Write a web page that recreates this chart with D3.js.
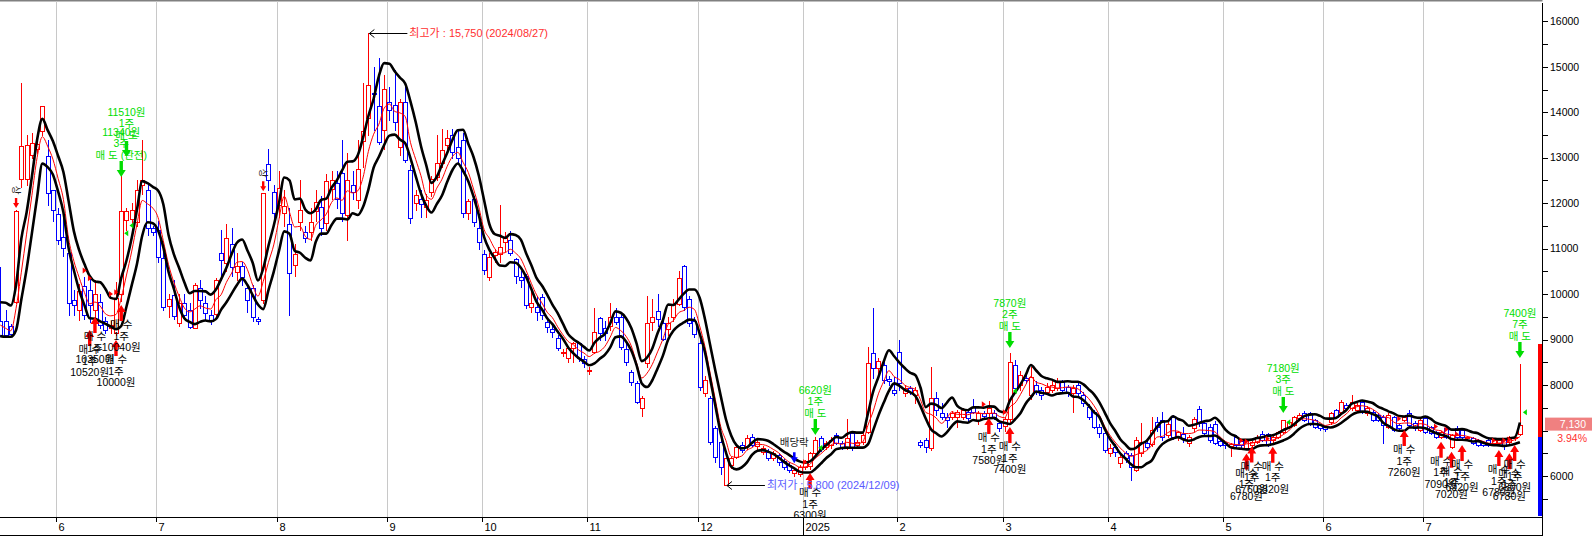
<!DOCTYPE html>
<html><head><meta charset="utf-8">
<script src="https://cdn.jsdelivr.net/npm/d3@7"></script>
<style>
html,body{margin:0;padding:0;background:#fff;}
svg{display:block;}
text{font-family:"Liberation Sans","Noto Sans CJK KR",sans-serif;}
</style></head><body>
<svg id="c" width="1592" height="537"></svg>
<script>
// ---- data (daily candles, 2024/05/17 .. 2025/07/25) ----
const opens = [
9400,9400,9300,9835,12530,12540,13060,13200,13590,13040,
12280,11755,11264,10897,9871,9651,10179,10091,9651,9835,
9417,9248,9139,9996,11630,11660,11594,12400,12290,11448,
11411,10787,9739,9982,9373,9798,9651,9263,10128,9798,
9541,9556,10897,10677,11095,10494,10619,10128,10128,9450,
9871,12855,12253,11950,11777,11535,10641,11594,11360,11374,
11830,11909,11572,12320,12437,12672,11741,12400,12070,13360,
13880,14420,14135,13610,14233,14160,13243,14233,12730,12000,
12100,11923,12240,12583,12877,13280,13500,13243,13390,11777,
12085,11447,10883,10384,10850,10883,11140,11180,10766,10384,
10406,9710,9724,9944,9394,9240,9028,8700,8588,8808,
8930,8566,8300,8735,9467,9260,9300,9490,9490,8786,
8294,8053,7488,8493,9394,9628,9358,9233,9490,9783,
10618,9885,9416,8918,7818,7708,7048,6755,5810,6240,
6425,6680,6667,6865,6667,6535,6535,6388,6460,6340,
6250,6060,6050,6190,6220,6500,6828,6645,6680,6900,
6718,6645,6938,6680,6755,6975,8697,8367,8440,8135,
7891,8733,7818,7927,7780,6755,6800,6608,7708,7378,
7304,7304,7304,7304,7415,7524,7231,7378,7378,7378,
7158,7100,7250,8440,8000,8150,7780,8000,7891,7855,
7890,7927,8074,7964,7818,8000,7780,7524,7415,7084,
6938,6498,6645,6278,6498,6460,6132,6498,6718,6700,
7194,7231,6900,7290,6870,6920,6718,7048,7480,7158,
7084,7140,6770,6718,6660,6864,6770,6608,6680,6755,
6920,6920,6790,6864,6975,7084,7120,7268,7378,7378,
7231,7120,7084,7194,7451,7400,7560,7490,7451,7630,
7378,7415,7340,7304,7084,7304,7120,7231,7390,7158,
7011,7268,7084,6975,6864,7048,6645,7048,7011,6830,
6830,6791,6755,6791,6718,6718,6791,6755,6830,6920];
const highs = [
10600,9650,9350,11850,14633,13500,13550,13450,14135,13400,
12300,11900,11700,10900,10100,10230,10384,10384,10300,10000,
9500,9400,10274,12620,11900,12000,12510,13390,12400,11500,
11600,11000,10000,10300,10000,10000,9800,10250,10300,9950,
9650,10350,11400,11550,11450,10900,10700,10200,10200,9500,
12220,13200,12400,12700,12300,11900,11100,12500,11500,11900,
12300,12150,12650,12700,12700,13400,13100,12700,13400,14633,
15750,15000,15200,14820,14560,14930,14300,14560,12840,12290,
12300,12200,12600,13500,13640,13600,13640,13640,13550,12100,
12150,11600,10960,10900,11000,11950,11370,11380,10800,10500,
10450,10050,9950,10000,9500,9350,9100,8800,8850,8950,
8950,8650,8400,9700,9500,9400,9800,9700,9550,8900,
8330,8100,7750,9950,9900,10000,9500,9500,9900,10500,
10650,9950,9500,9000,8200,7750,7100,6790,6400,6420,
6680,6750,6900,6920,6800,6650,6600,6550,6500,6380,
6300,6180,6250,6350,6520,6850,6870,6760,6860,6950,
6760,7260,7000,6800,6950,8840,9687,8600,8500,8200,
8180,8990,8000,7990,7950,6800,6830,8390,7850,7600,
7380,7420,7450,7500,7480,7700,7420,7420,7640,7450,
7200,7300,8700,8550,8300,8250,8400,8100,7950,8050,
8100,8150,8120,8000,8000,8100,7850,7580,7450,7150,
7000,6700,6700,6500,6550,6500,6850,7158,6800,7304,
7300,7415,7200,7350,7000,7080,6900,7300,7550,7200,
7150,7200,6800,6750,6720,6900,6800,6800,6780,6900,
6980,6950,6880,7000,7240,7220,7330,7380,7420,7400,
7260,7150,7100,7400,7480,7680,7600,7780,7600,7650,
7550,7450,7380,7350,7380,7330,7150,7330,7450,7200,
7260,7300,7100,7000,7000,7080,6920,7100,7050,6880,
6860,6820,6780,6820,6820,6810,6820,6880,6900,8470];
const lows = [
9080,9080,9100,9800,12350,12400,13000,13100,13500,11960,
11600,11100,10830,9540,9540,9430,9450,9380,9500,9250,
9150,9140,9100,9850,11400,11500,11500,12200,11300,11300,
10700,9650,9500,9450,9300,9450,9250,9250,9700,9450,
9350,9500,10300,10500,10400,10300,10200,9600,9400,9350,
9800,12300,11600,11700,11500,9550,10400,11400,11150,11200,
11600,11300,11400,12100,11900,11600,11200,12100,11900,12800,
13500,13600,13300,13200,13830,13610,13050,12900,11570,11850,
11700,11700,12150,12500,12800,13200,13000,12870,11700,11650,
11500,11000,10450,10300,10700,10700,10950,10850,10250,10150,
9700,9600,9440,9450,9160,9050,8780,8650,8500,8500,
8530,8400,8250,8700,9000,9000,9200,9350,8800,8450,
8000,7600,7330,8400,9200,9300,8980,9100,9400,9750,
9650,9300,9050,7900,7750,6700,6300,6050,5800,6180,
6400,6520,6600,6650,6600,6480,6350,6350,6250,6150,
6080,6000,6000,6150,6150,6480,6550,6600,6620,6700,
6600,6600,6580,6640,6700,6950,8150,8200,8050,8000,
7780,7890,7750,7800,7600,6640,6530,6580,7350,7250,
7080,7250,7080,7250,7200,7380,7150,7280,7330,7250,
6990,7000,7150,7850,7900,8050,7700,7800,7700,7800,
7850,7900,7850,7750,7400,7780,7550,7250,7050,6850,
6520,6450,6450,6200,6300,5912,6100,6450,6600,6650,
7000,6800,6850,6820,6800,6750,6650,7000,7100,6900,
6750,6700,6650,6620,6430,6650,6640,6590,6640,6720,
6780,6650,6700,6830,6950,7050,7100,7240,7200,7120,
7050,7020,7000,7150,7280,7380,7450,7450,7420,7380,
7350,7200,7200,6720,7050,6980,7020,7200,7100,7020,
6990,6950,6920,6840,6840,6840,6620,6840,6840,6800,
6700,6660,6660,6660,6700,6690,6600,6730,6800,6900];
const closes = [
9100,9100,9120,11830,13265,13280,13330,13300,14135,12220,
11860,11190,11007,9800,9761,10069,9541,9761,9996,9321,
9212,9321,9908,11828,11828,11850,12290,12510,11448,11360,
10824,9725,9886,9519,9813,9541,9285,10201,9871,9578,
9431,10311,10750,11227,10600,10619,10384,9871,9505,9400,
12217,12510,11777,12327,11930,10472,10875,11850,11230,11594,
12033,11462,12488,12500,12085,11777,12510,12253,12745,13585,
14600,14400,13350,14504,14050,13790,14233,12950,11667,12180,
11990,12070,12525,12877,13170,13426,13130,12987,11792,12050,
11594,11154,10531,10824,10934,11044,11227,10900,10406,10311,
9761,9812,9614,9541,9284,9160,8808,8735,8808,8918,
8588,8478,8340,9174,9138,9138,9490,9394,8830,8515,
8075,7635,7723,9358,9490,9445,9006,9358,9783,10348,
9710,9358,9123,7965,8112,6755,6425,6205,6390,6388,
6645,6570,6840,6680,6755,6608,6388,6498,6315,6200,
6130,6140,6200,6320,6500,6790,6600,6718,6800,6718,
6645,6828,6608,6755,6900,8477,8367,8530,8111,8100,
7818,8037,7927,7855,7890,6680,6645,7708,7451,7304,
7231,7378,7415,7451,7268,7415,7390,7320,7490,7300,
7050,7250,8500,7927,8220,8110,8184,7855,7780,7964,
8000,8074,7891,7855,7927,7818,7598,7304,7084,6938,
6571,6608,6535,6425,6390,6205,6791,6755,6645,7011,
7084,6864,7150,6864,6960,6830,6864,7245,7158,6938,
6791,6718,6680,6680,6700,6680,6680,6791,6755,6864,
6800,6680,6864,6975,7231,7194,7304,7340,7231,7158,
7084,7048,7030,7378,7304,7630,7490,7630,7560,7415,
7500,7231,7231,7120,7340,7011,7048,7304,7120,7048,
7231,6975,6938,6864,6975,6864,6900,6864,6864,6864,
6718,6680,6680,6680,6791,6791,6680,6864,6860,7130];
// four trading days before the first visible candle (off-screen, only seed the averages)
const priorHighs  = [9700,9650,9600,9550];
const priorLows   = [9150,9100,9050,9000];
const priorCloses = [9450,9400,9350,9300];

// month ticks (candle index of first trading day) and labels
const monthTickIdx    = [11,30,53,74,92,112,133,153,171,191,211,233,252,271];
const monthTickLabels = ["6","7","8","9","10","11","12","2025","2","3","4","5","6","7"];
const yearTickIdx     = [153];
const priceTicks = [6000,7000,8000,9000,10000,11000,12000,13000,14000,15000,16000];
const minorTicks = [5500,6500,7500,8500,9500,10500,11500,12500,13500,14500,15500];

// buy signals: candle index, price, quantity, arrow-tip price level
const buyIdx   = [17,18,22,23,154,188,192,237,238,242,267,274,276,278,285,287,288];
const buyPrice = [10520,10350,10000,10040,6300,7580,7400,6780,6760,6820,7260,7090,7020,6920,6780,6780,6800];
const buyQty   = [1,1,1,1,1,1,1,1,1,1,1,1,1,1,1,1,1];
const buyTip   = [9212,9498,8992,9762,6066,7275,7077,6495,6649,6644,7012,6754,6534,6682,6572,6499,6682];
// sell signals
const sellIdx   = [24,23,155,192,244,289];
const sellPrice = [11510,11340,6620,7870,7180,7400];
const sellQty   = [1,3,1,2,3,7];
const sellTip   = [13016,12576,6903,8817,7386,8597];
const sellNote  = ["매 도","매 도 (완전)","매 도","매 도","매 도","매 도"];
// "상" marks, ex-dividend mark
const riseIdx = [3,50];
const dividendIdx = [151];
const dividendTip = [6283];
// extremes
const extremeIdx   = [70,138];
const extremeLabel = ["최고가","최저가"];
const extremePrice = [15750,5800];
const extremeDate  = ["2024/08/27","2024/12/09"];
const extremeColor = ["#ff3030","#5a5aff"];
// current price info
const lastClose = 7130, prevClose = 6860, limitUp = 8910, limitDown = 4810;

// ---- drawing ----
const svg = d3.select("#c");
const RED="#ff0000", BLUE="#0000ff", GREEN="#00dd00";
const N = closes.length;
const AX = 1542.5, PB = 517;
const x = d3.scaleLinear().domain([0, N-1]).range([0.3, 1519.9]);
const y = d3.scaleLinear().domain([6000,16000]).range([476, 21.3]);
const fmt = d3.format(",");

svg.append("rect").attr("width",1592).attr("height",537).attr("fill","#fff");
svg.append("defs").append("clipPath").attr("id","plot")
  .append("rect").attr("x",0).attr("y",0).attr("width",AX).attr("height",PB);

// top border
svg.append("line").attr("x1",0).attr("x2",AX).attr("y1",0.75).attr("y2",0.75)
  .attr("stroke","#808080").attr("stroke-width",1.5);

// month grid
const gx = i => Math.round(x(i)) - 2 + 0.5;
svg.append("g").attr("shape-rendering","crispEdges").selectAll("line").data(monthTickIdx).join("line")
  .attr("x1",gx).attr("x2",gx).attr("y1",1).attr("y2",PB).attr("stroke","#c8c8c8");

const plot = svg.append("g").attr("clip-path","url(#plot)");

// candles
const data = d3.range(N).map(i=>({i,o:opens[i],c:closes[i],
  h:Math.max(highs[i],opens[i],closes[i]), l:Math.min(lows[i],opens[i],closes[i])}));
const col = d => d.c >= d.o ? RED : BLUE;
const cxp = d => Math.round(x(d.i));
const cg = plot.append("g").attr("shape-rendering","crispEdges");
const cand = cg.selectAll("g").data(data).join("g");
cand.append("line")
  .attr("x1",d=>cxp(d)+0.5).attr("x2",d=>cxp(d)+0.5)
  .attr("y1",d=>Math.round(y(d.h))).attr("y2",d=>Math.round(y(d.l))+1)
  .attr("stroke",col);
cand.append("rect")
  .attr("x",d=>cxp(d)-1.5).attr("width",4)
  .attr("y",d=>Math.round(y(Math.max(d.o,d.c)))+0.5)
  .attr("height",d=>Math.max(0.01, Math.round(y(Math.min(d.o,d.c)))-Math.round(y(Math.max(d.o,d.c)))))
  .attr("fill","#fff").attr("stroke",col);

// indicator lines (5-period averages of high / low / close)
const sma = (prior,arr,n)=>{ const a = prior.concat(arr), p = prior.length;
  return arr.map((v,i)=>d3.mean(a.slice(Math.max(0,i+p-n+1), i+p+1))); };
const upper = sma(priorHighs,highs,5), lower = sma(priorLows,lows,5), ma = sma(priorCloses,closes,5);
const lg = d3.line().x((d,i)=>x(i)).y(d=>y(d)).curve(d3.curveMonotoneX);
plot.append("path").datum(ma).attr("d",lg).attr("fill","none").attr("stroke",RED).attr("stroke-width",1);
plot.append("path").datum(upper).attr("d",lg).attr("fill","none").attr("stroke","#000").attr("stroke-width",2.6);
plot.append("path").datum(lower).attr("d",lg).attr("fill","none").attr("stroke","#000").attr("stroke-width",2.6);

// arrow helper: dir=1 points up (tip on top), dir=-1 points down
function arrow(xc, tip, dir, len, hw, hl, sw){
  const b = tip + dir*len, h = tip + dir*hl;
  return `M${xc},${tip}L${xc-hw/2},${h}L${xc-sw/2},${h}L${xc-sw/2},${b}L${xc+sw/2},${b}L${xc+sw/2},${h}L${xc+hw/2},${h}Z`;
}
const ann = plot.append("g").attr("font-size","10.5px");

// buy markers and labels
buyIdx.forEach((bi,k)=>{
  const xc = x(bi), t = y(buyTip[k]), py = y(buyPrice[k]);
  ann.append("path").attr("d",`M${xc-7},${py-3}L${xc-3},${py}L${xc-7},${py+3}Z`).attr("fill",RED);
  ann.append("path").attr("d",arrow(xc,t,1,16,9,7,3.4)).attr("fill",RED);
  const lines = ["매 수", buyQty[k]+"주", buyPrice[k]+"원"];
  lines.forEach((s,j)=>ann.append("text").attr("x",xc).attr("y",t+19.5+j*11.5).attr("dy","0.36em")
    .attr("text-anchor","middle").attr("fill","#000").text(s));
});
// sell markers and labels
sellIdx.forEach((si,k)=>{
  const xc = x(si), t = y(sellTip[k]), py = y(sellPrice[k]);
  ann.append("path").attr("d",`M${xc+7},${py-3}L${xc+3},${py}L${xc+7},${py+3}Z`).attr("fill",GREEN);
  const lines = [sellPrice[k]+"원", sellQty[k]+"주", sellNote[k]];
  lines.forEach((s,j)=>ann.append("text").attr("x",xc).attr("y",t-45+j*11.5).attr("dy","0.36em")
    .attr("text-anchor","middle").attr("fill",GREEN).text(s));
});
sellIdx.forEach((si,k)=>{
  ann.append("path").attr("d",arrow(x(si),y(sellTip[k]),-1,16,9,7,3.4)).attr("fill",GREEN);
});
// "상" marks
riseIdx.forEach(ri=>{
  const xc = x(ri), t = y(highs[ri]) - 2;
  ann.append("path").attr("d",arrow(xc,t,-1,10,6,5,2.4)).attr("fill",RED);
  ann.append("text").attr("transform",`translate(${xc},${t-18}) rotate(90)`).attr("dy","0.36em")
    .attr("text-anchor","middle").attr("font-size","9.5px").attr("fill","#222").text("상");
});
// ex-dividend
dividendIdx.forEach((di,k)=>{
  const xc = x(di), t = y(dividendTip[k]);
  ann.append("path").attr("d",arrow(xc,t,-1,11,7,6,2.6)).attr("fill",BLUE);
  ann.append("text").attr("x",xc).attr("y",t-21).attr("dy","0.36em").attr("text-anchor","middle")
    .attr("fill","#222").text("배당락");
});
// extremes
extremeIdx.forEach((ei,k)=>{
  const x0 = x(ei)+1, yy = Math.round(y(extremePrice[k]))+0.5;
  ann.append("line").attr("x1",x0).attr("x2",x0+38).attr("y1",yy).attr("y2",yy).attr("stroke","#000");
  ann.append("path").attr("d",`M${x0+5},${yy-4}L${x0},${yy}L${x0+5},${yy+4}`).attr("fill","none").attr("stroke","#000");
  ann.append("text").attr("x",x0+40).attr("y",yy).attr("dy","0.36em").attr("font-size","11px")
    .attr("fill",extremeColor[k]).text(`${extremeLabel[k]} : ${fmt(extremePrice[k])} (${extremeDate[k]})`);
});

// ---- right price axis ----
const limG = svg.append("g").attr("shape-rendering","crispEdges");
limG.append("rect").attr("x",1538).attr("width",4.5).attr("y",y(limitUp)).attr("height",y(prevClose)-y(limitUp)).attr("fill",RED);
limG.append("rect").attr("x",1538).attr("width",4.5).attr("y",y(prevClose)).attr("height",Math.min(y(limitDown),516)-y(prevClose)).attr("fill",BLUE);

const ra = svg.append("g").attr("shape-rendering","crispEdges");
ra.append("line").attr("x1",AX).attr("x2",AX).attr("y1",3).attr("y2",536).attr("stroke","#000");
ra.selectAll("line.mj").data(priceTicks.concat(minorTicks)).join("line").attr("class","mj")
  .attr("x1",AX).attr("x2",AX+5).attr("y1",d=>Math.round(y(d))+0.5).attr("y2",d=>Math.round(y(d))+0.5).attr("stroke","#000");
const yl = y(lastClose);
svg.append("g").selectAll("text").data(priceTicks.filter(p=>Math.abs(y(p)-yl)>14)).join("text")
  .attr("x",1550).attr("y",d=>y(d)).attr("dy","0.36em").attr("font-size","10.5px").attr("fill","#000").text(d=>d);

// current price box
svg.append("rect").attr("x",1545).attr("y",yl-7).attr("width",47).attr("height",13).attr("fill","#f08080");
svg.append("text").attr("x",1586).attr("y",yl-0.5).attr("dy","0.36em").attr("text-anchor","end")
  .attr("font-size","10.5px").attr("fill","#fff").text(fmt(lastClose));
svg.append("text").attr("x",1587).attr("y",yl+14).attr("dy","0.36em").attr("text-anchor","end")
  .attr("font-size","10.5px").attr("fill","#ff3030")
  .text(d3.format(".2f")((lastClose-prevClose)/prevClose*100)+"%");

// ---- bottom axis ----
const ba = svg.append("g").attr("shape-rendering","crispEdges");
ba.append("line").attr("x1",0).attr("x2",AX).attr("y1",PB+0.5).attr("y2",PB+0.5).attr("stroke","#000");
ba.append("line").attr("x1",0).attr("x2",AX).attr("y1",535.5).attr("y2",535.5).attr("stroke","#000");
ba.selectAll("line.t").data(monthTickIdx).join("line").attr("class","t")
  .attr("x1",gx).attr("x2",gx).attr("y1",PB).attr("y2",PB+5).attr("stroke","#000");
ba.selectAll("line.yr").data(yearTickIdx).join("line").attr("class","yr")
  .attr("x1",gx).attr("x2",gx).attr("y1",PB).attr("y2",536).attr("stroke","#000");
svg.append("g").selectAll("text").data(monthTickIdx).join("text")
  .attr("x",d=>gx(d)+2).attr("y",527).attr("dy","0.36em").attr("font-size","11px").attr("fill","#000")
  .text((d,k)=>monthTickLabels[k]);
</script>
</body></html>
